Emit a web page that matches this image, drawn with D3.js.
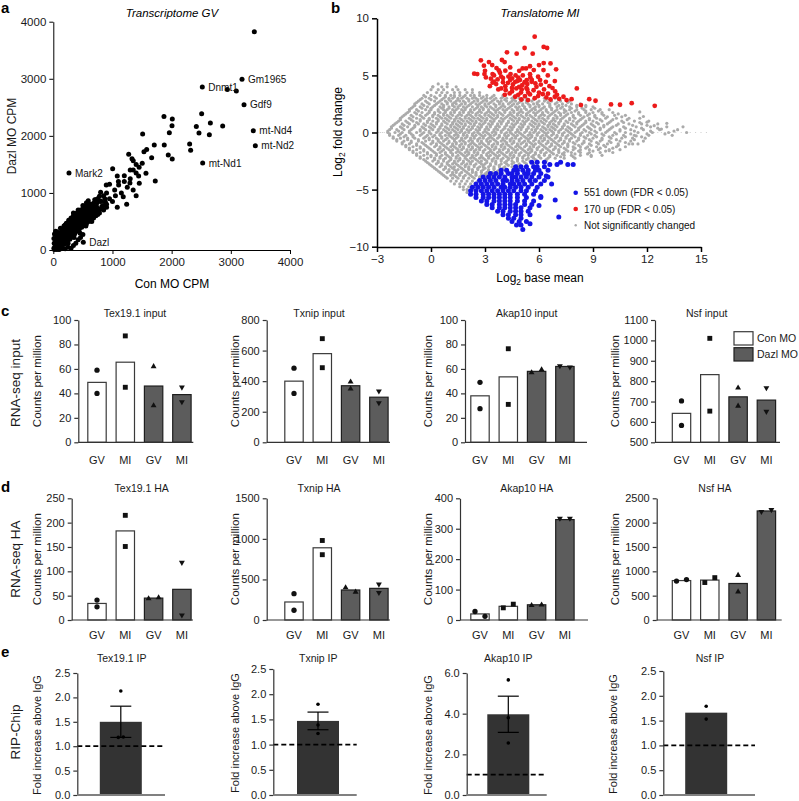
<!DOCTYPE html>
<html>
<head>
<meta charset="utf-8">
<script src="https://cdn.jsdelivr.net/npm/d3@7"></script>
<style>
  body { margin: 0; background: #fff; }
  svg { font-family: "Liberation Sans", Arial, Helvetica, sans-serif; }
</style>
</head>
<body>
<svg id="fig" width="799" height="801"></svg>
<script>
// ---------------- data ----------------

// a: transcriptome GV, Con MO CPM vs Dazl MO CPM ("x,y" pairs)
const cpmPairs = `20,10 30,60 40,140 50,30 60,250 70,90 80,180 90,20 100,300 110,130 120,210 130,60 140,360
150,170 160,260 170,100 180,420 190,220 200,320 210,140 220,470 230,280 240,380 250,190 260,520 270,330
280,430 290,240 300,560 310,380 320,470 330,290 340,600 350,430 360,520 370,330 380,640 390,470 400,560
410,370 420,670 430,500 440,600 450,410 460,700 470,540 480,640 490,450 500,720 510,580 520,660 530,480
540,760 550,610 560,700 570,520 580,780 600,640 620,720 640,560 660,800 680,680 700,750 720,600 740,830
760,720 780,650 800,860 820,760 850,700 870,900 900,800 40,80 60,50 80,110 100,70 120,150 140,100 160,200
180,140 200,250 220,180 240,300 260,230 280,350 300,270 320,400 340,320 360,440 380,360 400,480 420,420
440,520 460,450 480,560 500,500 520,600 540,540 560,620 580,580 600,690 620,610 650,660 670,740 690,620
710,700 730,760 150,120 250,260 350,370 450,480 550,570 650,620 180,300 280,280 380,420 480,500 580,650
100,200 200,180 300,330 400,420 500,550 600,590 150,50 250,120 350,220 450,300 550,420 650,500 750,620
60,320 120,380 200,440 280,500 340,650 420,700 500,780 560,830 200,20 250,50 300,30 340,80 380,120 420,180
460,220 500,270 100,10 150,30 60,10 10,30 15,120 10,200 20,280 40,330
30,120 50,180 70,230 90,270 110,250 130,300 150,330 170,350 190,380 210,400 230,420 250,450 270,470 290,500
310,520 330,540 350,560 370,580 390,610 410,630 430,650 450,660 470,680 490,690 510,700 530,720 550,740
570,750 590,760 610,790 630,800 70,140 90,160 110,180 130,190 150,230 170,240 190,270 210,290 230,320
250,340 270,370 290,390 310,420 330,440 350,460 370,480 390,510 410,520 430,540 450,560 470,590 490,610
510,630 530,640 550,660 570,680 590,700 610,670 630,700 60,100 80,70 120,90 160,130 200,110 240,150 280,190
320,230 360,280 400,330 440,370 480,400 520,430 560,460 600,500 640,540 680,560 720,640 760,680 800,720
840,780 880,840 680,820 720,880 780,940 640,760
591,863 1081,748 1240,800 1182,934 895,1138 800,1011 1037,1051 1003,1424 1081,1296 1104,1138 1295,1174
1351,1401 1442,1296 1453,1168 1566,1343 1723,1208 1274,1676 1351,1564 1503,1518 1532,1722 1578,1763
1662,1617 1943,1664 2010,1594 1510,2031 1706,1839 1875,1839 1870,2341 2011,2295 2006,2178 2417,2166
2507,2388 2654,2225 2862,2172 1961,2055 2462,2049 2637,2020 2304,1857 2321,1746 2524,1524 3380,2090
3414,1828 3223,2546 3189,2990 2518,2855 2941,2814 3093,2785 3397,3825 265,1349 507,134 1350,1050 1400,950
1250,1100 1150,1000 950,900 900,1000 1000,850 850,950 1200,1200 1300,1250 1450,1450 1400,1500 1300,1400
1100,1200 950,1150 1050,950 900,750 800,850 750,900 700,880 1200,1300 1400,1350 1330,1600`;
const labelGenes = ["Gm1965", "Dnmt1", "Gdf9", "mt-Nd4", "mt-Nd2", "mt-Nd1", "Mark2", "Dazl"];
const labelCon = [3189, 2518, 3223, 3380, 3414, 2524, 265, 507];
const labelDazl = [2990, 2855, 2546, 2090, 1828, 1524, 1349, 134];
const cpmTicks = [0, 1000, 2000, 3000, 4000];

// b: translatome MI, log2 base mean vs log2 fold change
// not significant: rows of [log2FC, "log2 base mean in tenths ..."]
const grayRows = [
  [4.25, "4 9"],
  [4.0, "1 6 9 14"],
  [3.75, "0 4 7 12 15 19 23"],
  [3.5, "-2 3 6 9 13 16 20 23 27"],
  [3.25, "-4 0 5 8 11 13 16 19 22 24 27 31 35 40 47"],
  [3.0, "-5 -1 3 7 10 12 15 17 20 23 25 28 31 33 36 39 42 45 49 53 58 63 69"],
  [2.75, "-7 -3 2 5 8 11 14 16 18 21 24 26 29 31 34 37 39 42 45 47 50 53 56 60 63 67 72 77"],
  [2.5, "-9 -5 -1 3 6 9 12 14 17 19 22 25 27 30 32 35 38 40 43 46 48 51 54 57 59 62 66 69 73 78 83"],
  [2.25, "-10 -6 -2 1 5 7 10 13 15 18 20 23 26 28 31 33 36 39 41 44 47 49 52 55 58 60 63 66 70 73 77 81 86 90"],
  [2.0, "-12 -8 -3 0 4 7 9 12 14 17 19 22 24 27 29 32 35 37 40 42 45 48 50 53 56 58 61 64 67 70 74 77 81 85 89 94 99"],
  [1.75, "-13 -9 -5 -1 2 5 8 11 13 16 18 21 23 26 28 31 33 36 38 41 44 46 49 51 54 57 59 62 65 68 71 74 78 82 86 90 95 101"],
  [1.5, "-15 -11 -6 -3 1 4 7 9 12 15 17 20 22 25 27 30 32 35 37 40 43 45 48 50 53 55 58 61 63 66 69 72 75 79 83 87 91 96 102 108"],
  [1.25, "-17 -12 -8 -4 -1 3 6 8 11 14 16 19 21 24 26 29 31 34 36 39 41 44 47 49 52 54 57 60 62 65 68 70 73 77 80 84 88 92 97 103 110 116"],
  [1.0, "-18 -14 -10 -6 -2 1 4 7 10 13 15 18 20 23 25 28 30 33 35 38 40 43 46 48 51 53 56 59 61 64 67 69 72 75 79 82 86 90 95 100 106 113 121"],
  [0.75, "-20 -16 -12 -7 -4 0 3 6 9 12 14 17 19 22 24 27 29 32 34 37 39 42 45 47 50 52 55 58 60 63 66 68 71 74 78 81 85 89 93 98 104 110 117 126"],
  [0.5, "-22 -17 -13 -9 -5 -1 2 5 8 11 13 16 18 21 23 26 28 31 33 36 38 41 44 46 49 51 54 57 59 62 65 67 70 73 76 80 83 87 91 96 101 107 114 122 131"],
  [0.25, "-23 -19 -15 -11 -6 -3 1 4 7 10 12 15 17 20 22 25 27 30 32 35 37 40 43 45 48 50 53 56 58 61 64 66 69 72 75 78 82 85 89 94 99 105 111 118 127 137"],
  [0.0, "-24 -20 -16 -12 -8 -4 -1 3 6 9 11 14 16 19 21 24 26 29 31 34 36 39 42 44 47 49 52 55 57 60 63 65 68 71 74 77 80 84 88 92 97 102 108 115 123 132 142"],
  [-0.25, "-23 -18 -14 -10 -6 -2 2 5 8 10 13 15 18 20 23 25 28 30 33 35 38 41 43 46 48 51 54 56 59 62 64 67 70 73 76 79 83 87 91 96 101 107 113 121 134"],
  [-0.5, "-21 -17 -13 -9 -4 -1 3 6 9 12 14 17 19 22 24 27 29 32 34 37 40 42 45 47 50 53 55 58 61 63 66 69 72 75 78 82 86 90 95 100 106 112 119"],
  [-0.75, "-19 -15 -11 -7 -3 1 4 7 10 13 16 18 21 23 26 28 31 33 36 39 41 44 46 49 52 54 57 60 62 65 68 71 74 77 81 85 89 94 99 105 111 118"],
  [-1.0, "-16 -12 -8 -4 0 3 6 9 12 14 17 19 22 24 27 29 32 35 37 40 42 45 48 50 53 56 58 61 64 67 70 73 76 80 84 88 93 98 104 110 115"],
  [-1.25, "-14 -10 -6 -2 2 5 8 11 13 16 18 21 23 26 28 31 34 36 39 41 44 47 49 52 55 57 60 63 66 69 72 76 79 83 87 92 97 103 108"],
  [-1.5, "-12 -8 -4 0 4 7 10 12 15 17 20 22 25 27 30 33 35 38 40 43 46 48 51 54 56 59 62 65 68 71 75 79 83 88 93 99 105"],
  [-1.75, "-10 -6 -2 2 5 8 11 14 16 19 21 24 26 29 32 34 37 39 42 45 47 50 53 55 58 61 64 67 71 74 78 83 88 94 101"],
  [-2.0, "-8 -4 0 3 6 9 12 15 18 20 23 25 28 31 33 36 38 41 44 46 49 52 54 57 60 63 66 70 74 78 83 89 95"],
  [-2.25, "-6 -2 2 5 8 11 14 16 19 22 24 27 29 32 35 37 40 43 45 48 51 54 57 61 65 69 74 80"],
  [-2.5, "-3 1 4 7 10 13 15 18 21 23 26 28 31 34 36 39 42 45 48 51 55 59 64"],
  [-2.75, "-1 3 6 9 12 14 17 20 22 25 28 30 33 36 39 42 45 49 53 57"],
  [-3.0, "1 5 8 11 13 16 19 21 24 27 29 32 35 38 41 45 49"],
  [-3.25, "3 7 10 13 15 18 21 23 26 29 32 35 38 42 46"],
  [-3.5, "5 9 12 14 17 20 23 25 28 31 34 38 42"],
  [-3.75, "7 11 13 16 19 22 25 28 31 34 38"],
  [-4.0, "9 12 15 18 21 24 27 30 34"],
  [-4.25, "11 14 17 20 23 26 30"],
  [-4.5, "13 16 19 22 25 28"],
  [-4.75, "16 18 21 24 27"],
  [-5.0, "18 20 23"],
  [-5.25, "20 22"],
  // in-between rows
  [3.125, "-3 2 8 13 18 24 29 34 40 46 52"],
  [2.875, "-6 0 6 10 15 21 26 30 35 41 46 51 57 64 71"],
  [2.625, "-8 -2 4 9 13 19 23 28 33 38 44 49 53 59 65 70 76"],
  [2.375, "-9 -4 2 7 12 16 21 26 30 36 40 45 51 55 60 66 71 75 81 86"],
  [2.125, "-11 -5 0 6 10 15 19 25 29 34 38 43 48 52 57 62 67 72 78 84 91"],
  [1.875, "-12 -7 -1 4 8 13 18 22 27 32 36 41 46 50 55 60 64 69 75 80 86 93"],
  [1.625, "-14 -8 -2 2 7 11 16 21 25 30 34 39 44 48 53 58 62 67 72 76 82 88 95 104"],
  [1.375, "-16 -10 -5 1 5 10 14 19 23 28 33 37 42 46 51 56 60 65 70 74 79 85 91 98 106"],
  [1.125, "-17 -11 -6 -1 4 9 13 17 22 27 31 35 40 45 49 54 58 63 68 72 77 83 88 94 101 109"],
  [0.875, "-19 -13 -8 -2 3 8 12 16 21 25 30 34 39 43 48 52 57 62 66 71 76 81 86 92 99 107 116"],
  [0.625, "-21 -15 -9 -3 1 6 11 15 19 24 28 33 37 42 46 51 56 60 65 69 74 79 84 90 96 103 112 120"],
  [0.375, "-22 -16 -10 -4 0 5 9 14 18 23 27 31 36 41 45 50 54 59 63 68 73 77 82 88 94 100 108 117 126"],
  [0.125, "-24 -18 -12 -6 -1 4 8 13 17 21 26 30 35 39 44 48 53 58 62 67 71 76 81 86 91 98 105 113 122 135"],
  [-0.125, "-23 -17 -11 -5 0 5 10 14 18 23 27 32 36 41 45 50 55 59 64 68 73 78 83 89 95 103 111 120 130"],
  [-0.375, "-21 -15 -10 -3 1 6 11 15 20 24 29 33 38 42 47 52 56 61 65 70 75 80 85 92 99 108 117"],
  [-0.625, "-19 -13 -7 -1 4 8 13 17 22 26 31 35 40 44 49 54 58 63 67 72 77 82 88 95 103 113"],
  [-0.875, "-16 -11 -5 1 5 10 14 19 23 28 32 37 42 46 51 55 60 65 69 74 79 85 92 100 108"],
  [-1.125, "-14 -8 -3 3 7 12 16 21 25 30 34 39 43 48 53 57 62 67 71 76 82 89 96 104"],
  [-1.375, "-12 -6 -1 5 9 14 18 23 27 32 36 41 45 50 55 59 64 69 74 80 86 94 101"],
  [-1.625, "-10 -4 1 6 11 15 20 24 29 33 38 43 47 52 56 61 66 71 76 82 90 97"],
  [-1.875, "-8 -2 3 8 12 17 21 26 31 35 40 44 49 54 58 63 68 73 80 87"],
  [-2.125, "-6 0 5 10 14 19 23 28 32 37 42 46 51 56 60 66 72 79"],
  [-2.375, "-4 2 7 11 16 20 25 30 34 39 43 48 53 58 64"],
  [-2.625, "-2 4 9 13 18 22 27 31 36 41 46 52"],
  [-2.875, "0 6 10 15 19 24 29 33 38 43 48"],
  [-3.125, "2 8 12 17 21 26 30 35 40"],
  [-3.375, "4 10 14 19 23 28 32 37"],
  [-3.625, "6 12 16 21 25 30 35"],
  [-3.875, "8 14 18 23 27 32"]
];
const grayExtra = "120,9 124,6 114,-3 112,-10 99,-16 89,-21 140,5 116,18 118,14 128,3 131,8 1,40";
const zeroLineX = "-29 -28 -27 -26 120 122 124 126 128 130 133 136 139 144 147 150 153";
// 170 up (FDR < 0.05)
const upPairs = `5.76,8.39 6.26,7.49 6.45,7.40 5.20,7.40 4.22,7.02 4.76,6.90 5.65,6.90 2.77,6.32 3.22,6.17
3.94,6.35 4.09,6.17 6.26,6.08 6.64,6.05 2.94,5.85 3.64,5.64 3.77,5.44 5.09,5.61 5.28,5.61 5.71,5.47
6.25,5.47 6.95,5.53 2.40,5.15 2.57,5.12 2.97,5.12 3.42,5.12 3.83,5.23 4.13,5.41 3.33,4.71 3.70,4.65
4.00,4.77 4.50,4.74 4.85,4.80 5.52,4.82 5.95,4.88 6.49,5.00 3.27,4.06 3.62,4.24 4.13,4.06 4.55,4.21
5.07,4.15 5.59,4.44 5.80,4.30 6.38,4.44 6.88,4.50 3.74,3.77 4.15,3.71 4.74,3.86 5.04,3.77 5.35,3.77
5.86,4.00 6.28,3.77 6.75,3.89 8.10,3.86 4.37,3.42 4.85,3.30 5.22,3.19 5.50,3.33 5.76,3.01 6.21,3.36
6.64,2.89 7.12,2.95 7.36,3.13 7.81,2.92 8.79,2.92 9.14,2.78 8.33,2.40 10.0,2.46 10.5,2.43 11.15,2.57
12.43,2.34 4.68,4.44 4.94,4.59 5.32,4.59 5.35,4.24 4.28,4.35 3.90,3.86 5.39,2.84 5.02,2.89 5.95,3.19
6.41,3.07 6.88,3.13 7.53,2.84 4.68,3.13 3.42,4.36 3.05,4.82 4.42,5.12 6.06,4.59 6.58,4.06
3.5,5.0 3.9,4.9 4.3,4.9 4.7,5.0 5.1,5.0 5.5,5.1 4.0,4.4 4.4,4.6 4.8,4.5 5.2,4.4 5.6,4.6 6.1,4.2 4.5,3.9
4.9,4.0 5.3,3.9 5.7,3.7 6.0,3.5 4.1,3.3 4.5,3.6 5.0,3.5 5.4,3.5 6.5,3.4 6.9,3.6 7.0,3.3 3.5,4.45 3.0,5.4
3.4,5.9 4.4,5.7 4.9,5.4 5.5,5.8 6.0,5.9`;
// 551 down (FDR < 0.05): rows of [log2FC, "log2 base mean ..."]
const downRows = [
  [-2.6, "5.6 5.9 6.3 7.2"],
  [-2.8, "6.6 7.0 7.6 7.9"],
  [-3.0, "4.7 5.0 5.3 5.7 5.9 6.3"],
  [-3.3, "3.9 4.2 4.6 4.8 5.1 5.4 5.8 6.0 6.5"],
  [-3.6, "3.3 3.6 3.9 4.3 4.5 4.8 5.2 5.4 5.7 6.1"],
  [-3.9, "2.9 3.2 3.5 3.8 4.1 4.5 4.7 5.0 5.3 5.6 6.0 6.5"],
  [-4.2, "2.7 3.0 3.3 3.6 4.0 4.2 4.5 4.8 5.1 5.5 5.8 6.3"],
  [-4.5, "2.5 2.8 3.1 3.4 3.7 4.0 4.4 4.6 4.9 5.2 5.6 6.1"],
  [-4.8, "2.3 2.6 2.9 3.2 3.5 3.9 4.1 4.4 4.7 5.0 5.4 5.9"],
  [-5.1, "2.2 2.5 2.8 3.1 3.4 3.7 4.0 4.3 4.6 5.0 5.3 5.8"],
  [-5.4, "2.2 2.5 2.9 3.2 3.5 3.8 4.1 4.4 4.8 5.2 5.7"],
  [-5.7, "2.5 2.9 3.2 3.5 3.8 4.1 4.4 4.8 5.3 6.1"],
  [-6.0, "2.8 3.1 3.5 3.8 4.1 4.4 4.8 5.2 5.7"],
  [-6.3, "3.1 3.4 3.8 4.1 4.4 4.7 5.2 5.6"],
  [-6.6, "3.4 3.8 4.1 4.4 4.7 5.0 5.5"],
  [-6.9, "3.7 4.0 4.4 4.7 5.0 5.4"],
  [-7.2, "4.0 4.3 4.7 5.0 5.5"],
  [-7.5, "4.3 4.6 5.0"],
  [-7.8, "4.5 4.9 5.3"],
  [-8.1, "4.75 5.0"]
];
const downExtra = "6.9,-5.9 7.1,-7.4 5.5,-8.0 5.1,-8.5 6.1,-5.6 6.4,-3.8 6.7,-4.5 6.0,-6.4";
const legendB = ["551 down (FDR < 0.05)", "170 up (FDR < 0.05)", "Not significantly changed"];

// c/d: RNA-seq counts per million
const genes = ["Tex19.1", "Txnip", "Akap10", "Nsf"];
const groups = ["GV", "MI", "GV", "MI"];
const condition = ["Con MO", "Con MO", "Dazl MO", "Dazl MO"];
const inputBars = [[49, 65.5, 46, 39], [400, 580, 370, 295], [38, 53.5, 58, 62], [642, 832, 723, 707]];
const inputReps = [
  [[59, 40], [87, 45], [62, 30], [45, 33]],
  [[485, 320], [678, 488], [395, 350], [335, 258]],
  [[49, 27.5], [76.5, 31], [57, 59.5], [62.5, 61.5]],
  [[703, 583], [1010, 653], [767, 678], [767, 651]]
];
const inputDomains = [[0, 100], [0, 800], [0, 100], [500, 1100]];
const inputTickSteps = [20, 200, 20, 100];
const haBars = [[34, 183, 45, 63], [222, 890, 370, 390], [20, 45, 50, 330], [810, 820, 750, 2240]];
const haReps = [
  [[41, 27], [215, 151], [44, 46], [118, 10]],
  [[325, 120], [980, 805], [400, 345], [440, 337]],
  [[28, 12], [40, 52], [48, 50], [334, 334]],
  [[800, 830], [770, 870], [920, 580], [2225, 2265]]
];
const haDomains = [[0, 250], [0, 1500], [0, 400], [0, 2500]];
const haTickSteps = [50, 500, 100, 500];

// e: RIP-Chip fold increase above IgG
const ipMean = [1.50, 1.47, 3.97, 1.66];
const ipSem = [0.32, 0.175, 0.89, 0];
const ipReps = [[2.13, 1.18, 1.19], [1.80, 1.39, 1.22], [5.66, 3.80, 2.56], [1.79, 1.53]];
const ipDomains = [[0, 2.5], [0, 2.5], [0, 6], [0, 2.5]];
const ipTickSteps = [0.5, 0.5, 2, 0.5];
const igGLevel = 1;

// ---------------- helpers ----------------
const svg = d3.select("#fig");
const pairs = s => s.trim().split(/\s+/).map(p => p.split(",").map(Number));
const rows = (list, scale) => list.flatMap(([y, s]) => s.trim().split(/\s+/).map(v => [+v / scale, y]));

function styleAxis(sel, size, color, width) {
  sel.attr("font-family", null).attr("font-size", size);
  sel.selectAll("path, line").attr("stroke", color).attr("stroke-width", width);
  sel.selectAll("text").attr("fill", "#1a1a1a");
}

function letter(t, x, y) {
  svg.append("text").text(t).attr("x", x).attr("y", y)
    .attr("font-size", 15).attr("font-weight", "bold");
}

function vlabel(parent, t, x, y, size) {
  return parent.append("text").text(t)
    .attr("transform", `translate(${x},${y}) rotate(-90)`)
    .attr("text-anchor", "middle").attr("font-size", size).attr("fill", "#1a1a1a");
}

function sub2(textSel, before, after, size) {
  textSel.append("tspan").text(before);
  textSel.append("tspan").text("2").attr("font-size", size * 0.7).attr("dy", 3);
  textSel.append("tspan").text(after).attr("dy", -3);
}

// ---------------- panel a ----------------
letter("a", 1, 13);
const gA = svg.append("g");
const xA = d3.scaleLinear().domain([0, 4000]).range([53.3, 290]);
const yA = d3.scaleLinear().domain([0, 4000]).range([250, 21.7]);

gA.append("text").text("Transcriptome GV").attr("x", 172).attr("y", 17)
  .attr("text-anchor", "middle").attr("font-size", 11.5).attr("font-style", "italic");

gA.append("g").selectAll("circle").data(pairs(cpmPairs)).join("circle")
  .attr("cx", d => xA(d[0])).attr("cy", d => yA(d[1])).attr("r", 2.5).attr("fill", "#000");

gA.append("g").selectAll("text").data(labelGenes).join("text")
  .text(d => d)
  .attr("x", (d, i) => xA(labelCon[i]) + 6)
  .attr("y", (d, i) => yA(labelDazl[i]) + 3.6)
  .attr("font-size", 10).attr("fill", "#111");

const axA = gA.append("g").attr("transform", "translate(0,250)")
  .call(d3.axisBottom(xA).tickValues(cpmTicks).tickSize(4).tickSizeOuter(0).tickPadding(4).tickFormat(d3.format("d")));
styleAxis(axA, 11.5, "#000", 1);
const ayA = gA.append("g").attr("transform", "translate(53.3,0)")
  .call(d3.axisLeft(yA).tickValues(cpmTicks).tickSize(4).tickSizeOuter(0).tickPadding(3).tickFormat(d3.format("d")));
styleAxis(ayA, 11.5, "#000", 1);
gA.append("text").text("Con MO CPM").attr("x", 172).attr("y", 288)
  .attr("text-anchor", "middle").attr("font-size", 12);
vlabel(gA, "Dazl MO CPM", 16, 136, 12);

// ---------------- panel b ----------------
letter("b", 331, 13);
const gB = svg.append("g");
const xB = d3.scaleLinear().domain([-3, 15]).range([377, 701]);
const yB = d3.scaleLinear().domain([-10, 10]).range([246.7, 18.3]);

gB.append("text").text("Translatome MI").attr("x", 540).attr("y", 17)
  .attr("text-anchor", "middle").attr("font-size", 11.5).attr("font-style", "italic");

gB.append("g").selectAll("circle").data(zeroLineX.split(" ").map(Number)).join("circle")
  .attr("cx", d => xB(d / 10)).attr("cy", yB(0)).attr("r", 0.6).attr("fill", "#c8c8c8");

const grayPts = rows(grayRows, 10).concat(pairs(grayExtra).map(d => [d[0] / 10, d[1] / 10]));
gB.append("g").selectAll("circle").data(grayPts).join("circle")
  .attr("cx", d => xB(d[0])).attr("cy", d => yB(d[1])).attr("r", 1.6).attr("fill", "#ababab");

const downPts = rows(downRows, 1).concat(pairs(downExtra));
gB.append("g").selectAll("circle").data(downPts).join("circle")
  .attr("cx", d => xB(d[0])).attr("cy", d => yB(d[1])).attr("r", 2.5).attr("fill", "#1414e6");

gB.append("g").selectAll("circle").data(pairs(upPairs)).join("circle")
  .attr("cx", d => xB(d[0])).attr("cy", d => yB(d[1])).attr("r", 2.4).attr("fill", "#ec1b1b");

const axB = gB.append("g").attr("transform", "translate(0,247)")
  .call(d3.axisBottom(xB).tickValues([-3, 0, 3, 6, 9, 12, 15]).tickSize(5).tickSizeOuter(0).tickPadding(3));
styleAxis(axB, 11.5, "#000", 1.5);
const ayB = gB.append("g").attr("transform", "translate(377,0)")
  .call(d3.axisLeft(yB).tickValues([-10, -5, 0, 5, 10]).tickSize(5).tickSizeOuter(0).tickPadding(3));
styleAxis(ayB, 11.5, "#000", 1.5);

sub2(gB.append("text").attr("x", 540).attr("y", 282).attr("text-anchor", "middle").attr("font-size", 12),
  "Log", " base mean", 12);
sub2(gB.append("text").attr("transform", "translate(342,132) rotate(-90)").attr("text-anchor", "middle").attr("font-size", 12),
  "Log", " fold change", 12);

const legColors = ["#1414e6", "#ec1b1b", "#a9a9a9"];
const legR = [2.3, 2.3, 1.2];
legendB.forEach((t, i) => {
  const ly = 192.7 + i * 16.3;
  gB.append("circle").attr("cx", 575.7).attr("cy", ly).attr("r", legR[i]).attr("fill", legColors[i]);
  gB.append("text").text(t).attr("x", 584).attr("y", ly + 3.6).attr("font-size", 10).attr("fill", "#111");
});

// ---------------- panels c, d ----------------
const firstCenter = [97, 294, 480, 681.5];
const barStep = 28.3;
const shapes = [d3.symbolCircle, d3.symbolSquare, d3.symbolTriangle, d3.symbolTriangle];
const shapeSize = [22, 24, 15, 15];
const shapeRot = [0, 0, 0, 180];

const countRows = [
  { bars: inputBars, reps: inputReps, domains: inputDomains, steps: inputTickSteps, suffix: "input",
    axisX: [78.3, 266.7, 465, 655], axisEnd: [193.3, 390, 587, 780], top: 320, bottom: 442.3,
    titleY: 317, titleX: [135, 319, 526.7, 706.7], labelDy: 21.5 },
  { bars: haBars, reps: haReps, domains: haDomains, steps: haTickSteps, suffix: "HA",
    axisX: [71.7, 266.7, 460, 656.7], axisEnd: [193, 390, 588, 781.7], top: 498.3, bottom: 620,
    titleY: 492, titleX: [141.7, 319, 526.7, 715], labelDy: 19 }
];
const yLabelX = [41, 239, 432, 619];

function countsChart(spec, i) {
  const g = svg.append("g");
  const [lo, hi] = spec.domains[i];
  const y = d3.scaleLinear().domain([lo, hi]).range([spec.bottom, spec.top]);
  const fc = firstCenter[i];
  const x = d3.scaleBand().domain(d3.range(groups.length))
    .range([fc - barStep / 2, fc + (groups.length - 0.5) * barStep])
    .paddingInner(0.35).paddingOuter(0.175);
  const cx = j => x(j) + x.bandwidth() / 2;

  g.append("g").selectAll("rect").data(spec.bars[i]).join("rect")
    .attr("x", (d, j) => x(j)).attr("width", x.bandwidth())
    .attr("y", d => y(d)).attr("height", d => spec.bottom - y(d))
    .attr("fill", (d, j) => condition[j] === "Con MO" ? "#fff" : "#5c5c5c")
    .attr("stroke", (d, j) => condition[j] === "Con MO" ? "#3a3a3a" : "#1e1e1e")
    .attr("stroke-width", 1.2);

  spec.reps[i].forEach((vals, j) => {
    const close = vals.length > 1 && Math.abs(y(vals[0]) - y(vals[1])) < 6;
    vals.forEach((v, k) => {
      const dx = close ? (k === 0 ? -5 : 5) : 0;
      g.append("path").attr("d", d3.symbol(shapes[j], shapeSize[j])())
        .attr("transform", `translate(${cx(j) + dx},${y(v)}) rotate(${shapeRot[j]})`)
        .attr("fill", "#111");
    });
  });

  const ay = g.append("g").attr("transform", `translate(${spec.axisX[i]},0)`)
    .call(d3.axisLeft(y).tickValues(d3.range(lo, hi + 1e-9, spec.steps[i]))
      .tickSize(4).tickSizeOuter(0).tickPadding(3).tickFormat(d3.format("d")));
  styleAxis(ay, 11, "#333", 1.2);
  g.append("line").attr("x1", spec.axisX[i]).attr("x2", spec.axisEnd[i])
    .attr("y1", spec.bottom).attr("y2", spec.bottom).attr("stroke", "#333").attr("stroke-width", 1.2);

  g.append("g").selectAll("text").data(groups).join("text")
    .text(d => d).attr("x", (d, j) => cx(j)).attr("y", spec.bottom + spec.labelDy)
    .attr("text-anchor", "middle").attr("font-size", 11).attr("fill", "#1a1a1a");

  g.append("text").text(`${genes[i]} ${spec.suffix}`).attr("x", spec.titleX[i]).attr("y", spec.titleY)
    .attr("text-anchor", "middle").attr("font-size", 10.5).attr("fill", "#1a1a1a");
  vlabel(g, "Counts per million", yLabelX[i], (spec.top + spec.bottom) / 2, 11.5);
}

countRows.forEach(spec => genes.forEach((gname, i) => countsChart(spec, i)));

letter("c", 1, 316);
letter("d", 1, 492);
vlabel(svg, "RNA-seq input", 20, 383, 13.5);
vlabel(svg, "RNA-seq HA", 20, 559, 13.5);

// legend (Nsf input)
["Con MO", "Dazl MO"].forEach((t, k) => {
  svg.append("rect").attr("x", 734).attr("y", 331.7 + k * 16).attr("width", 19).attr("height", 13.3)
    .attr("fill", k === 0 ? "#fff" : "#5c5c5c").attr("stroke", k === 0 ? "#3a3a3a" : "#1e1e1e").attr("stroke-width", 1.2);
  svg.append("text").text(t).attr("x", 757).attr("y", 342.3 + k * 16).attr("font-size", 10.5).attr("fill", "#1a1a1a");
});

// ---------------- panel e ----------------
const ipLayout = {
  axisX: [77.3, 273.3, 466.7, 663.3],
  axisEnd: [165, 356.7, 546.7, 755],
  top: [673, 669, 673, 671],
  bottom: [795, 795, 795, 795],
  center: [120.8, 318, 508.3, 706.2],
  titleX: [121.7, 318.3, 508.3, 710],
  labelX: [41, 239, 432, 617]
};
const ipBarW = 42;

genes.forEach((gname, i) => {
  const L = ipLayout;
  const g = svg.append("g");
  const y = d3.scaleLinear().domain(ipDomains[i]).range([L.bottom[i], L.top[i]]);
  const c = L.center[i];

  g.append("rect").attr("x", c - ipBarW / 2).attr("width", ipBarW)
    .attr("y", y(ipMean[i])).attr("height", L.bottom[i] - y(ipMean[i])).attr("fill", "#333");

  if (ipSem[i] > 0) {
    const e0 = y(ipMean[i] - ipSem[i]), e1 = y(ipMean[i] + ipSem[i]);
    g.append("line").attr("x1", c).attr("x2", c).attr("y1", e0).attr("y2", e1).attr("stroke", "#000").attr("stroke-width", 1.2);
    [e0, e1].forEach(ey => g.append("line").attr("x1", c - 10.5).attr("x2", c + 10.5)
      .attr("y1", ey).attr("y2", ey).attr("stroke", "#000").attr("stroke-width", 1.2));
  }

  const reps = ipReps[i];
  g.append("g").selectAll("circle").data(reps).join("circle")
    .attr("cx", (d, k) => {
      const twin = reps.findIndex((o, m) => m !== k && Math.abs(y(o) - y(d)) < 3);
      return twin < 0 ? c : c + (k < twin ? -2.5 : 2.5);
    })
    .attr("cy", d => y(d)).attr("r", 1.8).attr("fill", "#000");

  g.append("line").attr("x1", L.axisX[i]).attr("x2", L.axisEnd[i])
    .attr("y1", y(igGLevel)).attr("y2", y(igGLevel))
    .attr("stroke", "#000").attr("stroke-width", 1.8).attr("stroke-dasharray", "5,3");

  const ay = g.append("g").attr("transform", `translate(${L.axisX[i]},0)`)
    .call(d3.axisLeft(y).tickValues(d3.range(ipDomains[i][0], ipDomains[i][1] + 1e-9, ipTickSteps[i]))
      .tickSize(4).tickSizeOuter(0).tickPadding(3).tickFormat(d3.format(".1f")));
  styleAxis(ay, 11, "#333", 1.2);
  g.append("line").attr("x1", L.axisX[i]).attr("x2", L.axisEnd[i])
    .attr("y1", L.bottom[i]).attr("y2", L.bottom[i]).attr("stroke", "#808080").attr("stroke-width", 2);

  g.append("text").text(`${gname} IP`).attr("x", L.titleX[i]).attr("y", 662)
    .attr("text-anchor", "middle").attr("font-size", 10.5).attr("fill", "#1a1a1a");
  vlabel(g, "Fold increase above IgG", L.labelX[i], (L.top[i] + L.bottom[i]) / 2 + 1, 11);
});

letter("e", 1, 657);
vlabel(svg, "RIP-Chip", 20, 732, 13.5);
</script>
</body>
</html>
